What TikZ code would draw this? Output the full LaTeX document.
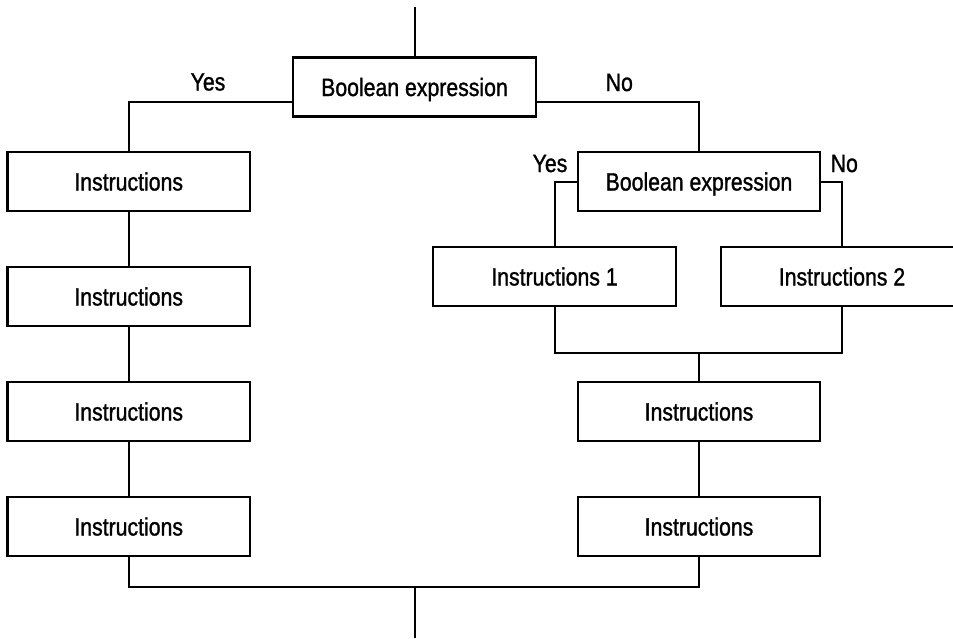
\documentclass[tikz,border=0pt]{standalone}
\usepackage{fontspec}
\setmainfont[FakeStretch=0.85,FakeBold=1.2]{Liberation Sans}
\usetikzlibrary{calc}
\begin{document}
\begin{tikzpicture}[x=1pt,y=-1pt,
  box/.style={draw,line width=2.2pt,minimum width=242.5pt,minimum height=59pt,inner sep=0pt,text height=18pt,text depth=0pt,font=\fontsize{25}{30}\selectfont},
  lbl/.style={inner sep=0pt,text height=18pt,text depth=0pt,font=\fontsize{25}{30}\selectfont},
  conn/.style={line width=2pt}]
\useasboundingbox (0,0) rectangle (953,638);
% nodes
\node[box] (b1) at (414.5,87) {Boolean expression};
\node[box] (L1) at (128.7,181.5) {Instructions};
\node[box] (L2) at (128.7,296.5) {Instructions};
\node[box] (L3) at (128.7,411.5) {Instructions};
\node[box] (L4) at (128.7,526.5) {Instructions};
\node[box] (b2) at (699,181.5) {Boolean expression};
\node[box] (I1) at (554.5,276.5) {Instructions 1};
\node[box] (I2) at (842,276.5) {Instructions 2};
\node[box] (R1) at (699,411.5) {Instructions};
\node[box] (R2) at (699,526.5) {Instructions};
% labels
\node[lbl] (y1) at (208,81.5) {Yes};
\node[lbl] (n1) at (619.3,82) {No};
\node[lbl] (y2) at (550,163) {Yes};
\node[lbl] (n2) at (844.3,163) {No};
% coordinates
\coordinate (top) at (414.5,7);
\coordinate (j1) at (699,353);
\coordinate (j2) at (414.5,587);
\coordinate (bot) at (414.5,638);
% connectors
\draw[conn] (top) -- (b1.north);
\draw[conn] ($(b1.west)+(0,15)$) -| (L1.north);
\draw[conn] ($(b1.east)+(0,15)$) -| (b2.north);
\draw[conn] (L1.south) -- (L2.north);
\draw[conn] (L2.south) -- (L3.north);
\draw[conn] (L3.south) -- (L4.north);
\draw[conn] (b2.west) -| (I1.north);
\draw[conn] (b2.east) -| (I2.north);
\draw[conn] (I1.south) |- (j1) -| (I2.south);
\draw[conn] (j1) -- (R1.north);
\draw[conn] (R1.south) -- (R2.north);
\draw[conn] (L4.south) |- (j2) -| (R2.south);
\draw[conn] (j2) -- (bot);
\end{tikzpicture}
\end{document}
